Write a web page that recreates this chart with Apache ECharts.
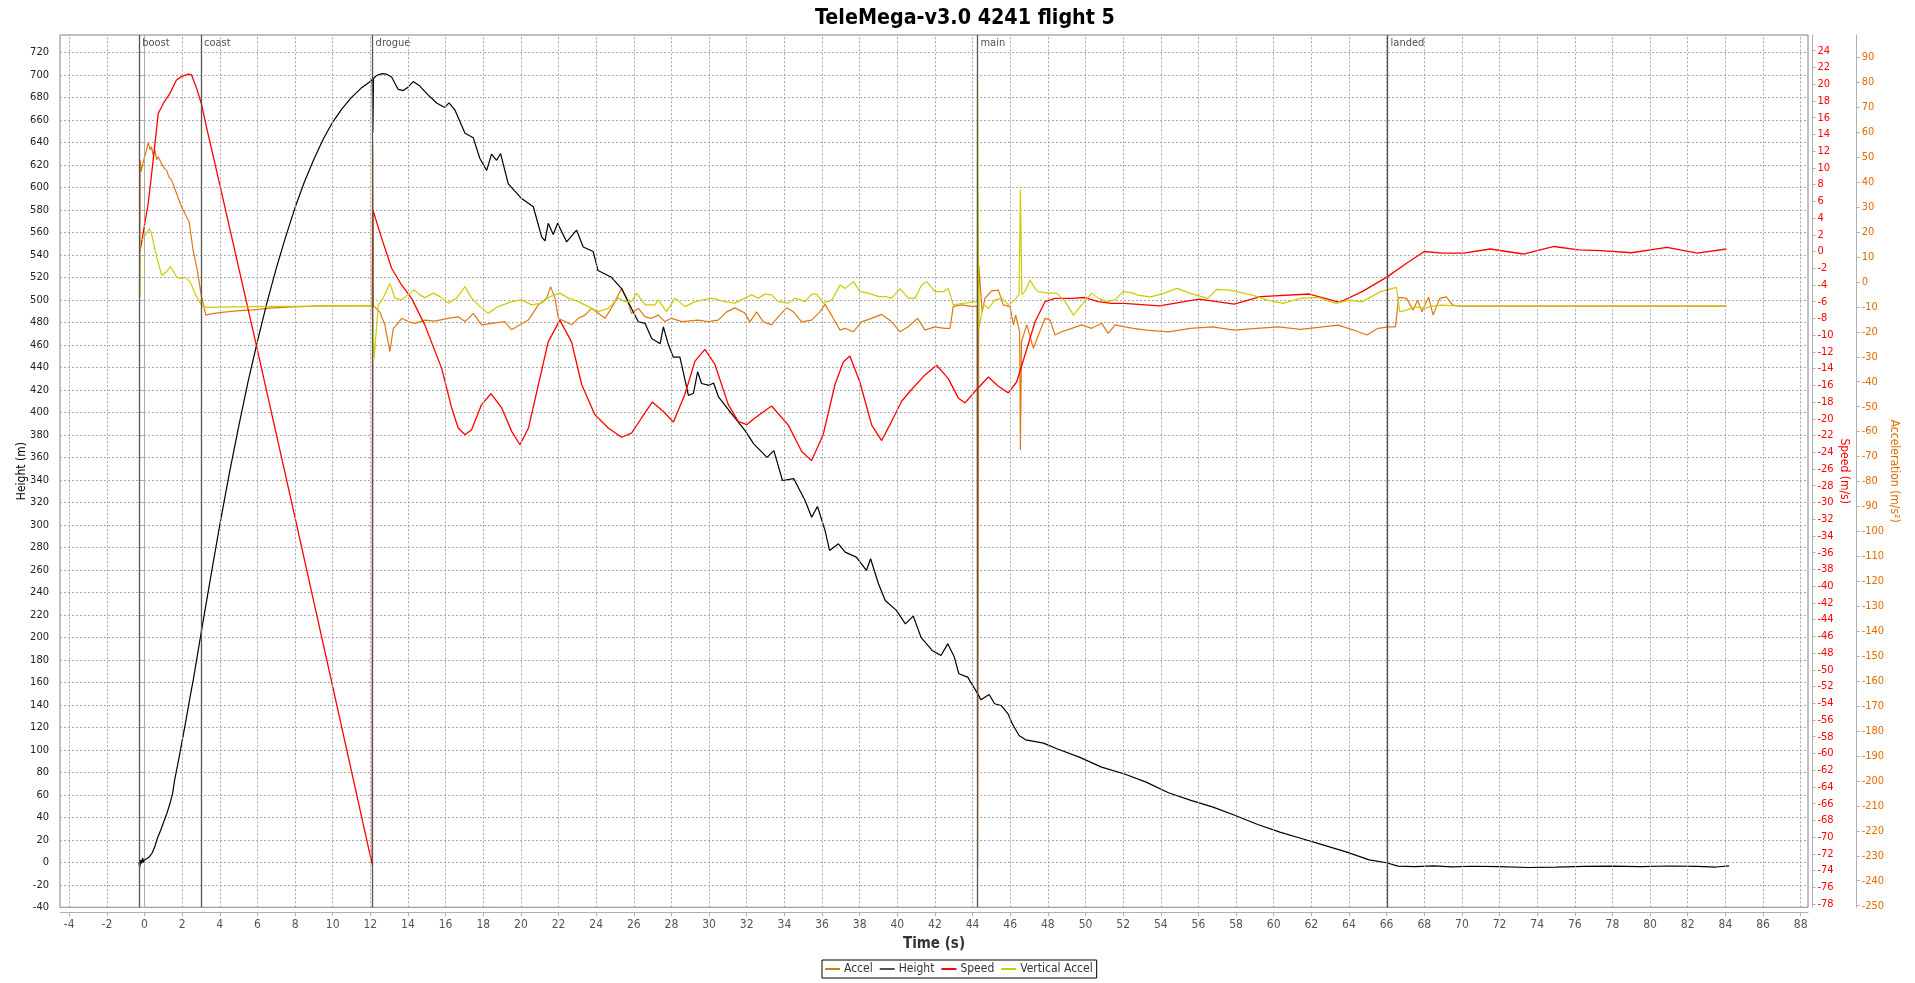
<!DOCTYPE html>
<html><head><meta charset="utf-8">
<script src="https://cdn.jsdelivr.net/npm/echarts@6/dist/echarts.min.js"></script>
<style>html,body{margin:0;padding:0;background:#fff}#c{width:1915px;height:983px}</style>
</head><body><div id="c"></div>
<script>
const TITLE = 'TeleMega-v3.0 4241 flight 5';
const SERIES_NAMES = ['Accel', 'Height', 'Speed', 'Vertical Accel'];
const X_TICKS = [-4,-2,0,2,4,6,8,10,12,14,16,18,20,22,24,26,28,30,32,34,36,38,40,42,44,46,48,50,52,54,56,58,60,62,64,66,68,70,72,74,76,78,80,82,84,86,88];
const HEIGHT_TICKS = [-40,-20,0,20,40,60,80,100,120,140,160,180,200,220,240,260,280,300,320,340,360,380,400,420,440,460,480,500,520,540,560,580,600,620,640,660,680,700,720];
const SPEED_TICKS = [-78,-76,-74,-72,-70,-68,-66,-64,-62,-60,-58,-56,-54,-52,-50,-48,-46,-44,-42,-40,-38,-36,-34,-32,-30,-28,-26,-24,-22,-20,-18,-16,-14,-12,-10,-8,-6,-4,-2,0,2,4,6,8,10,12,14,16,18,20,22,24];
const ACCEL_TICKS = [-250,-240,-230,-220,-210,-200,-190,-180,-170,-160,-150,-140,-130,-120,-110,-100,-90,-80,-70,-60,-50,-40,-30,-20,-10,0,10,20,30,40,50,60,70,80,90];
const EVENT_NAMES = ['boost', 'coast', 'drogue', 'main', 'landed'];
const EVENT_TIMES = [-0.28, 3.0, 12.12, 44.26, 66.05];

const X_MIN = -4.49, X_MAX = 88.39;
const H_MIN = -40, H_MAX = 735.4;
const S_MIN = -78.39, S_MAX = 25.88;
const A_MIN = -250.66, A_MAX = 98.96;

const heightT = [-0.3,-0.25,-0.2,-0.15,-0.1,-0.05,0,0.1,0.2,0.3,0.4,0.55,0.7,0.85,1.0,1.2,1.35,1.5,1.6,1.8,2.0,2.2,2.4,2.6,2.8,3.0,3.5,4.0,4.5,5.0,5.5,6.0,6.5,7.0,7.5,8.0,8.5,9.0,9.5,10.0,10.5,11.0,11.5,12.0,12.1,12.13,12.17,12.3,12.42,12.6,12.86,13.13,13.48,13.75,14.0,14.28,14.63,15.08,15.52,15.96,16.18,16.5,17.03,17.47,17.82,18.18,18.44,18.71,18.92,19.33,20.04,20.66,21.1,21.28,21.45,21.72,21.95,22.43,22.96,23.31,23.84,24.1,24.81,25.35,25.7,26.24,26.6,26.95,27.4,27.57,27.84,28.1,28.45,28.9,29.17,29.39,29.6,30.0,30.24,30.49,31.18,31.9,32.37,33.08,33.44,33.9,34.5,35.1,35.45,35.76,36.16,36.4,36.87,37.23,37.82,38.36,38.58,39.0,39.36,39.95,40.43,40.85,41.26,41.85,42.32,42.68,43.03,43.27,43.74,44.22,44.45,44.88,45.17,45.52,45.88,46.11,46.47,46.82,47.77,48.48,49.67,50.85,52.04,53.22,54.41,55.6,56.78,57.96,59.15,60.33,61.52,62.7,63.89,65.07,66.0,66.6,67.5,68.5,69.5,70.5,72,73.5,75,76.5,78,79.5,81,82.5,83.5,84.2];
const heightV = [0,-4,2,-1,4,0,2,1,4,5,8,14,22,28,35,44,52,62,73,90,108,126,145,163,183,203,252,300,345,387,427,463,497,528,556,582,605,625,643,658,670,680,688,694,696,649,697,699,700,701,700.6,698,687,686,689,694,690,682,675,671,675,668.6,648,644,625.6,615,629.5,624,630,603,590,582.7,556,552.4,568,558,568,551.5,562,547,543,526,520,510,498,480.5,479,465.6,461,476,460,449,449,415,417,436,425.6,424,426,414,399,384,372,360,366,339.4,341,321.6,306.8,316.3,295,277.2,283.1,275.7,271.3,259.4,269.8,247.6,232.7,223.9,212,218.8,200,188.3,183.8,194.2,182.4,167.6,164.6,151.3,144.4,149.2,140.9,139.4,132,123.1,112.7,108.9,105.9,100.9,93.5,84.6,78.7,71.3,61.8,55,49,41.6,33.6,26.8,20.9,15,9.1,2.2,-0.4,-3.4,-3.8,-3.2,-4.0,-3.5,-3.9,-4.6,-4.2,-3.6,-3.4,-3.9,-3.3,-3.6,-4.2,-3.2];

const speedT = [-0.24,0.2,0.46,0.73,1.0,1.35,1.7,1.97,2.32,2.5,2.77,3.03,3.3,4.0,6.0,8.0,10.0,12.1,12.13,12.6,13.13,13.66,14.19,14.9,15.79,16.32,16.67,17.03,17.38,17.91,18.41,18.98,19.51,19.95,20.4,20.93,21.45,22.07,22.69,23.23,23.93,24.64,25.35,25.88,26.41,26.98,27.56,28.1,28.71,29.25,29.78,30.31,31.02,31.55,32.0,32.43,33.32,34.21,34.92,35.44,36.06,36.69,37.13,37.48,38.01,38.64,39.17,39.7,40.23,40.76,41.47,42.09,42.71,43.24,43.6,44.13,44.84,45.37,45.9,46.34,46.78,47.32,47.85,48.38,49.27,49.97,50.68,51.39,52.05,53.93,56.04,57.9,59.3,61.9,63.5,64.7,66.05,67.06,68.0,68.94,70.1,71.5,73.27,74.9,76.2,77.4,79.0,80.9,82.5,84.06];
const speedV = [0,5.8,10.9,16.5,17.7,18.9,20.5,20.9,21.2,21.1,19.5,17.6,14.8,8.0,-11.8,-31.8,-52.0,-73.3,5.0,1.6,-2.0,-4.0,-5.6,-8.8,-13.97,-18.7,-21.1,-21.9,-21.3,-18.3,-17.0,-18.7,-21.5,-23.1,-21.1,-15.9,-10.8,-8.2,-10.8,-15.9,-19.5,-21.1,-22.2,-21.7,-19.9,-18.0,-19.1,-20.4,-17.1,-13.1,-11.7,-13.5,-18.3,-20.3,-20.7,-19.9,-18.47,-20.75,-23.9,-25.0,-21.9,-15.9,-13.2,-12.5,-15.6,-20.75,-22.6,-20.3,-17.9,-16.5,-14.75,-13.6,-15.2,-17.5,-18.1,-16.7,-15.0,-16.1,-16.9,-15.6,-12.4,-8.4,-6.0,-5.6,-5.6,-5.5,-6.0,-6.2,-6.2,-6.5,-5.7,-6.3,-5.4,-5.08,-6.07,-4.8,-3.0,-1.4,0.0,-0.2,-0.2,0.3,-0.3,0.6,0.2,0.1,-0.15,0.5,-0.2,0.3];

const accelT = [-0.25,-0.23,-0.18,-0.1,0.0,0.11,0.2,0.25,0.3,0.37,0.45,0.55,0.65,0.73,0.9,1.05,1.17,1.3,1.44,1.7,1.97,2.23,2.37,2.58,2.8,3.03,3.26,3.56,4.0,4.89,5.78,6.66,7.55,9.32,12.1,12.13,12.16,12.3,12.51,12.77,13.04,13.22,13.4,13.66,14.01,14.37,14.9,15.43,16.14,16.67,17.03,17.47,17.91,18.44,19.15,19.5,19.95,20.39,20.93,21.37,21.58,21.81,21.99,22.34,22.69,23.05,23.4,23.76,24.11,24.47,24.91,25.35,25.62,25.88,26.24,26.6,26.95,27.3,27.65,28.0,28.54,29.42,29.95,30.49,30.93,31.37,31.9,32.17,32.52,32.88,33.32,33.68,34.12,34.48,34.92,35.44,35.89,36.16,36.5,36.95,37.22,37.66,38.1,38.63,39.16,39.7,40.14,40.58,41.08,41.47,42.0,42.53,42.8,42.97,43.42,44.04,44.24,44.27,44.33,44.51,44.66,45.01,45.37,45.63,45.99,46.17,46.29,46.5,46.54,46.6,46.88,47.23,47.5,47.85,48.12,48.38,48.74,49.27,49.8,50.33,50.86,51.21,51.57,52.1,52.54,53.23,54.4,55.57,56.74,57.9,59.09,60.26,61.43,62.6,63.43,64.25,64.95,65.54,66.12,66.47,66.64,67.06,67.41,67.65,67.88,68.23,68.47,68.82,69.17,69.52,69.87,84.06];
const accelV = [-5.9,48.9,44.2,47,50,52.8,55.8,55.5,53,54.2,51,52.8,49,50.2,47.5,45.5,44.8,42,40.8,35.5,30.1,26.1,24.1,12.8,4.8,-5.9,-13.3,-12.8,-12.3,-11.6,-11.2,-10.5,-10.1,-9.6,-9.6,55,-9.6,-10.5,-12.2,-17.2,-27.9,-18.6,-17.2,-14.6,-15.9,-16.6,-15.3,-15.7,-14.6,-14.0,-15.9,-12.6,-17.2,-16.6,-15.9,-19.2,-17.2,-15.3,-9.2,-6.5,-1.9,-6.5,-14.6,-15.9,-17.2,-14.6,-13.3,-10.6,-12.6,-14.6,-9.2,-2.6,-6.5,-12.6,-10.6,-14.0,-14.6,-13.3,-15.9,-14.6,-15.9,-15.3,-15.9,-15.3,-12.0,-10.4,-12.5,-16.0,-12.0,-16.0,-17.2,-13.9,-10.4,-12.0,-16.0,-15.3,-12.0,-9.0,-13.3,-19.3,-18.6,-20.0,-16.0,-14.6,-13.0,-16.0,-20.0,-18.0,-14.6,-19.3,-18.0,-18.6,-18.6,-9.9,-9.2,-9.9,-9.5,-235,6.8,-12.0,-6.5,-3.6,-3.3,-9.2,-9.9,-17.2,-13.3,-20,-67.4,-24.0,-17.2,-26.6,-21.3,-14.6,-15.3,-21.3,-20.0,-18.6,-17.2,-18.6,-16.6,-20.6,-17.2,-18.0,-18.6,-19.3,-20.0,-18.6,-18.0,-19.3,-18.6,-18.0,-19.0,-18.0,-17.3,-19.3,-21.3,-18.6,-18.0,-18.0,-6.2,-6.6,-11.3,-7.3,-12.0,-6.0,-13.3,-6.6,-6.0,-9.3,-9.7,-9.7];

const vaccelT = [-0.25,-0.23,-0.07,0.11,0.25,0.37,0.64,0.91,1.17,1.39,1.7,1.88,2.15,2.42,2.68,3.03,3.3,5.78,9.0,12.1,12.14,12.2,12.42,12.68,13.04,13.3,13.66,14.0,14.33,14.63,14.9,15.34,15.7,16.14,16.58,17.03,17.38,17.82,18.26,18.8,19.51,20.04,20.57,21.1,21.54,22.07,22.52,23.05,23.58,24.11,24.64,25.17,25.53,25.88,26.15,26.6,27.13,27.3,27.74,28.19,28.72,29.25,30.14,30.84,31.37,31.9,32.26,32.61,32.97,33.32,33.68,34.21,34.57,35.1,35.45,35.72,36.08,36.52,36.97,37.23,37.67,38.02,38.47,39.0,39.35,39.7,40.14,40.58,40.94,41.29,41.56,42.0,42.44,42.71,42.97,43.6,44.04,44.24,44.26,44.33,44.58,44.84,45.2,45.55,45.9,46.25,46.47,46.54,46.62,46.78,47.05,47.32,47.5,48.03,48.47,48.92,49.36,49.8,50.33,50.68,51.12,51.57,52.0,52.54,52.76,53.46,54.16,54.87,55.57,56.5,56.97,57.68,58.85,59.79,60.5,61.43,62.37,63.31,64.0,64.7,65.65,66.52,66.7,67.06,67.53,68.0,68.47,68.94,69.87,84.06];
const vaccelV = [-4.6,16.9,17.4,19.4,21.4,19.4,10.1,2.7,4.1,6.1,2.1,1.4,1.8,0.1,-4.6,-9.3,-10.2,-9.9,-9.7,-9.4,-9.4,-30.6,-9.2,-6.5,-0.6,-6.5,-7.2,-5.2,-3.2,-5.2,-6.3,-4.5,-5.9,-8.5,-6.5,-1.9,-6.5,-9.9,-12.6,-9.9,-7.9,-7.2,-9.2,-8.5,-5.9,-4.5,-6.5,-7.9,-9.9,-11.9,-10.6,-6.5,-7.9,-7.9,-4.5,-9.2,-9.2,-7.2,-11.9,-6.5,-9.9,-7.9,-6.5,-7.9,-8.5,-6.5,-5.2,-6.5,-4.9,-5.2,-7.9,-8.5,-6.5,-7.9,-4.9,-4.9,-8.5,-7.2,-1.2,-2.6,0.1,-3.9,-4.5,-5.9,-5.9,-6.5,-2.7,-6.5,-6.5,-1.2,0.1,-3.9,-3.9,-2.6,-9.2,-8.5,-7.9,-8,83.6,-18.6,-9.2,-10.6,-7.2,-6.5,-9.2,-7.2,-5,36.8,-5,-3.9,0.8,-2.6,-3.9,-4.5,-4.5,-7.9,-13.3,-9.2,-4.5,-6.5,-7.9,-7.2,-3.9,-4.5,-5.3,-6.0,-4.6,-2.6,-4.6,-6.6,-3.0,-3.3,-5.3,-7.5,-8.6,-6.6,-6.2,-8.6,-7.3,-8.0,-4.0,-2.2,-12.0,-11.3,-10.0,-10.6,-9.7,-9.3,-9.66,-9.66];

const zip = (T, V) => T.map((t, i) => [t, V[i]]);
const FONT = '"DejaVu Sans Condensed", "Liberation Sans Narrow", "DejaVu Sans", sans-serif';
const COLORS = { accel: '#e07810', height: '#000000', speed: '#ff0000', vaccel: '#cccc00' };
const GRID_LINE = { color: '#a8a8a8', type: [2, 2], width: 1 };

const chart = echarts.init(document.getElementById('c'), null, { renderer: 'canvas' });
const option = {
  animation: false,
  backgroundColor: '#ffffff',
  textStyle: { fontFamily: FONT },
  title: {
    text: TITLE, left: 960, top: 3, textAlign: 'center',
    textStyle: { fontFamily: FONT, fontWeight: 'bold', fontSize: 21.3, color: '#000' }
  },
  legend: {
    data: SERIES_NAMES, left: 822, top: 960, icon: 'rect', itemWidth: 15, itemHeight: 2, itemGap: 7,
    borderColor: '#000', borderWidth: 1, padding: [3, 4, 3, 3], borderRadius: 0,
    textStyle: { fontFamily: FONT, fontSize: 12, color: '#333', padding: [0, 0, 0, -1] }
  },
  grid: { left: 60, right: 107, top: 35, bottom: 75.7, show: true, borderColor: '#808080', borderWidth: 1, containLabel: false },
  xAxis: {
    type: 'value', min: X_MIN, max: X_MAX, offset: 5,
    name: 'Time (s)', nameLocation: 'middle', nameGap: 21,
    nameTextStyle: { fontFamily: FONT, fontWeight: 'bold', fontSize: 15, color: '#333' },
    axisLine: { show: true, onZero: false, lineStyle: { color: '#b0b0b0', width: 1 } },
    axisTick: { show: true, customValues: X_TICKS, length: 4, lineStyle: { color: '#b0b0b0' } },
    axisLabel: { customValues: X_TICKS, color: '#555', fontSize: 12, margin: 7, fontFamily: FONT },
    splitLine: { show: false }
  },
  yAxis: [
    {
      type: 'value', position: 'left', min: H_MIN, max: H_MAX, interval: 20, offset: 3,
      name: 'Height (m)', nameLocation: 'middle', nameGap: 29, nameMoveOverlap: false,
      nameTextStyle: { fontFamily: FONT, fontSize: 12, color: '#000' },
      axisLine: { show: true, lineStyle: { color: '#b0b0b0' } },
      axisTick: { show: true, customValues: HEIGHT_TICKS, length: 4, lineStyle: { color: '#b0b0b0' } },
      axisLabel: { customValues: HEIGHT_TICKS, color: '#222', fontSize: 11, margin: 8, fontFamily: FONT },
      splitLine: { show: true, lineStyle: GRID_LINE }
    },
    {
      type: 'value', position: 'right', min: S_MIN, max: S_MAX, offset: 4.5,
      name: 'Speed (m/s)', nameLocation: 'middle', nameGap: 26, nameRotate: -90, nameMoveOverlap: false,
      nameTextStyle: { fontFamily: FONT, fontSize: 12, color: '#ff0000' },
      axisLine: { show: true, lineStyle: { color: '#b0b0b0' } },
      axisTick: { show: true, customValues: SPEED_TICKS, length: 3, lineStyle: { color: '#b0b0b0' } },
      axisLabel: { customValues: SPEED_TICKS, color: '#ff0000', fontSize: 11, margin: 5, fontFamily: FONT },
      splitLine: { show: false }
    },
    {
      type: 'value', position: 'right', min: A_MIN, max: A_MAX, offset: 48.7,
      name: 'Acceleration (m/s²)', nameLocation: 'middle', nameGap: 31, nameRotate: -90, nameMoveOverlap: false,
      nameTextStyle: { fontFamily: FONT, fontSize: 12, color: '#e06c00' },
      axisLine: { show: true, lineStyle: { color: '#b0b0b0' } },
      axisTick: { show: true, customValues: ACCEL_TICKS, length: 3, lineStyle: { color: '#b0b0b0' } },
      axisLabel: { customValues: ACCEL_TICKS, color: '#e06c00', fontSize: 11, margin: 5, fontFamily: FONT },
      splitLine: { show: false }
    }
  ],
  series: [
    {
      name: 'gridlines', type: 'line', data: [], xAxisIndex: 0, yAxisIndex: 0, z: 1, silent: true,
      markLine: {
        silent: true, symbol: ['none', 'none'], label: { show: false }, animation: false,
        lineStyle: GRID_LINE, emphasis: { disabled: true },
        data: X_TICKS.map(t => ({ xAxis: t }))
      }
    },
    {
      name: 'events', type: 'scatter', xAxisIndex: 0, yAxisIndex: 0, z: 1.5, symbolSize: 0, clip: false, silent: true,
      data: EVENT_TIMES.map((t, i) => ({ value: [t, H_MAX], name: EVENT_NAMES[i] })),
      label: { show: true, formatter: '{b}', position: [3, 3], fontSize: 11, color: '#222', fontFamily: FONT },
      markLine: {
        silent: true, symbol: ['none', 'none'], label: { show: false }, animation: false,
        lineStyle: { color: '#555', width: 1.3, type: 'solid' }, emphasis: { disabled: true },
        data: EVENT_TIMES.map(t => ({ xAxis: t }))
      }
    },
    { name: 'Accel', type: 'line', yAxisIndex: 2, data: zip(accelT, accelV), showSymbol: false, symbol: 'none', z: 2,
      lineStyle: { color: COLORS.accel, width: 1.2 }, itemStyle: { color: COLORS.accel } },
    { name: 'Height', type: 'line', yAxisIndex: 0, data: zip(heightT, heightV), showSymbol: false, symbol: 'none', z: 2,
      lineStyle: { color: COLORS.height, width: 1.2 }, itemStyle: { color: '#555' } },
    { name: 'Speed', type: 'line', yAxisIndex: 1, data: zip(speedT, speedV), showSymbol: false, symbol: 'none', z: 2,
      lineStyle: { color: COLORS.speed, width: 1.3 }, itemStyle: { color: COLORS.speed } },
    { name: 'Vertical Accel', type: 'line', yAxisIndex: 2, data: zip(vaccelT, vaccelV), showSymbol: false, symbol: 'none', z: 2,
      lineStyle: { color: COLORS.vaccel, width: 1.2 }, itemStyle: { color: COLORS.vaccel } }
  ]
};
chart.setOption(option);
</script>
</body></html>
